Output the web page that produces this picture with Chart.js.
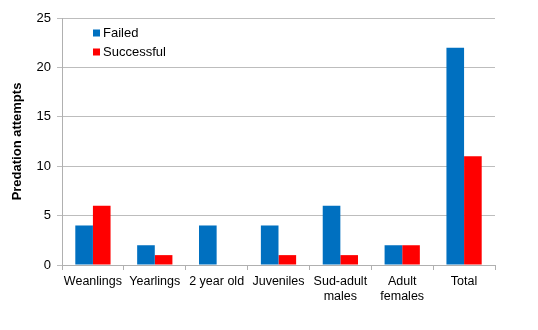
<!DOCTYPE html>
<html>
<head>
<meta charset="utf-8">
<script src="https://cdn.jsdelivr.net/npm/chart.js@4"></script>
<style>
  html, body { margin: 0; padding: 0; background: #fff; }
  #wrap { width: 538px; height: 330px; }
</style>
</head>
<body>
<div id="wrap"><canvas id="chart" width="538" height="330"></canvas></div>
<script>
const categories = ['Weanlings', 'Yearlings', '2 year old', 'Juveniles', ['Sud-adult', 'males'], ['Adult', 'females'], 'Total'];
const failed = [4, 2, 4, 4, 6, 2, 22];
const successful = [6, 1, 0, 1, 1, 2, 11];
const yTicks = [0, 5, 10, 15, 20, 25];

const FONT = "'Liberation Sans', Arial, sans-serif";

// small legend box drawn inside the plot, top-left
const insideLegend = {
  id: 'insideLegend',
  afterDraw(chart) {
    const ctx = chart.ctx;
    const x = chart.chartArea.left + 31;
    let y = chart.chartArea.top + 15;
    ctx.save();
    ctx.font = '13px ' + FONT;
    ctx.textBaseline = 'middle';
    chart.data.datasets.forEach(ds => {
      ctx.fillStyle = ds.backgroundColor;
      ctx.fillRect(x, y - 3.5, 7, 7);
      ctx.fillStyle = '#000';
      ctx.fillText(ds.label, x + 10, y);
      y += 19;
    });
    ctx.restore();
  }
};

new Chart(document.getElementById('chart'), {
  type: 'bar',
  data: {
    labels: categories,
    datasets: [
      { label: 'Failed', data: failed, backgroundColor: '#0070C0' },
      { label: 'Successful', data: successful, backgroundColor: '#FF0000' }
    ]
  },
  options: {
    responsive: false,
    animation: false,
    layout: { padding: { left: 6, right: 43, top: 18, bottom: 0 } },
    plugins: { legend: { display: false }, tooltip: { enabled: false } },
    datasets: { bar: { categoryPercentage: 0.57, barPercentage: 1.0, borderWidth: 0 } },
    scales: {
      x: {
        offset: true,
        grid: { offset: true, drawOnChartArea: false, color: '#b0b0b0', tickLength: 5 },
        border: { color: '#b0b0b0' },
        ticks: { color: '#000', font: { family: FONT, size: 12.5 }, maxRotation: 0, autoSkip: false, padding: 4 },
        afterFit(scale) { scale.height = 65; }
      },
      y: {
        min: 0,
        max: 25,
        afterBuildTicks(scale) { scale.ticks = yTicks.map(v => ({ value: v })); },
        grid: { color: '#bdbdbd', tickLength: 5 },
        border: { color: '#b0b0b0' },
        ticks: { color: '#000', font: { family: FONT, size: 13 }, padding: 6 },
        title: { display: true, text: 'Predation attempts', color: '#000', font: { family: FONT, size: 13, weight: 'bold' }, padding: 4 },
        afterFit(scale) { scale.width = 56; }
      }
    }
  },
  plugins: [insideLegend]
});
</script>
</body>
</html>
